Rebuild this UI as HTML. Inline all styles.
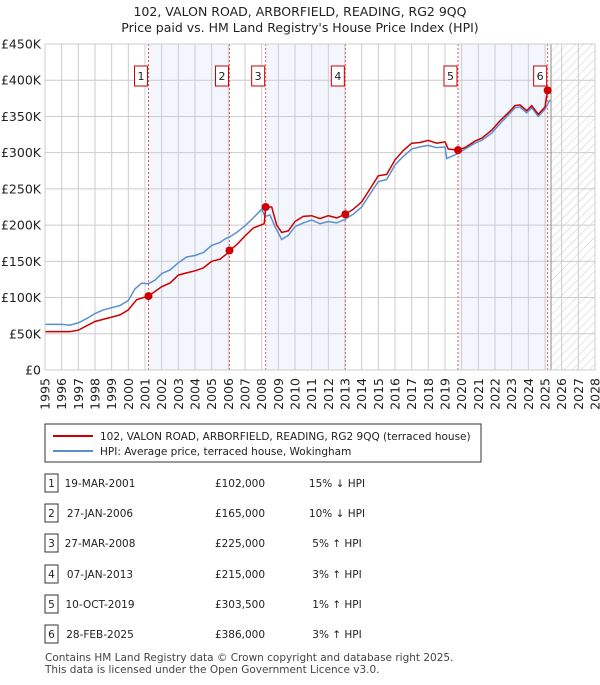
<!DOCTYPE html>
<html><head><meta charset="utf-8"><style>
body{margin:0;background:#fff;font-family:"Liberation Sans","DejaVu Sans",sans-serif;}
svg text{font-family:"DejaVu Sans","Liberation Sans",sans-serif;}
</style></head><body>
<svg id="c" width="600" height="680" xmlns="http://www.w3.org/2000/svg">
<defs><pattern id="hatch" width="6" height="6" patternUnits="userSpaceOnUse" patternTransform="rotate(45)"><line x1="0" y1="0" x2="0" y2="6" stroke="#ccc" stroke-width="1"/></pattern></defs>
<text x="300" y="16" text-anchor="middle" font-size="12.5" fill="#222">102, VALON ROAD, ARBORFIELD, READING, RG2 9QQ</text>
<text x="300" y="32" text-anchor="middle" font-size="12.5" fill="#222">Price paid vs. HM Land Registry's House Price Index (HPI)</text>
<g id="plot"></g>
<g>
<rect x="45" y="424" width="436" height="38" fill="#fff" stroke="#333"/>
<line x1="53" y1="436" x2="93" y2="436" stroke="#cc0000" stroke-width="2"/>
<text x="100" y="440" font-size="10.5" fill="#222">102, VALON ROAD, ARBORFIELD, READING, RG2 9QQ (terraced house)</text>
<line x1="53" y1="451" x2="93" y2="451" stroke="#5b8fd0" stroke-width="2"/>
<text x="100" y="455" font-size="10.5" fill="#222">HPI: Average price, terraced house, Wokingham</text>
</g>
<g id="table"></g>
<text x="45" y="661" font-size="10.5" fill="#444">Contains HM Land Registry data © Crown copyright and database right 2025.</text>
<text x="45" y="673" font-size="10.5" fill="#444">This data is licensed under the Open Government Licence v3.0.</text>
</svg>
<script>
const hpiYears=[1995,1996,1996.5,1997,1997.5,1998,1998.5,1999,1999.5,2000,2000.4,2000.8,2001.2,2001.6,2002,2002.5,2003,2003.5,2004,2004.5,2005,2005.5,2005.8,2006.1,2006.5,2007,2007.5,2008,2008.2,2008.5,2008.8,2009.2,2009.6,2010,2010.5,2011,2011.5,2012,2012.5,2013,2013.5,2014,2014.5,2015,2015.5,2016,2016.5,2017,2017.5,2018,2018.5,2019,2019.1,2019.8,2020.2,2020.8,2021.2,2021.8,2022.3,2022.8,2023.2,2023.5,2023.9,2024.2,2024.6,2025,2025.3];
const hpiValues=[63,63,62,65,71,78,83,86,89,96,112,120,119,124,133,138,148,156,158,162,172,176,181,184,190,199,210,222,212,214,198,180,186,198,203,207,202,205,203,208,215,225,243,260,263,283,295,305,308,310,307,308,292,299,305,313,317,327,340,352,362,363,355,362,350,360,373];
const priceYears=[1995,1996.5,1997,1998,1999,1999.5,2000,2000.5,2001.21,2002,2002.5,2003,2003.5,2004,2004.5,2005,2005.5,2006.0,2006.07,2006.5,2007,2007.5,2008.15,2008.24,2008.6,2008.9,2009.2,2009.6,2010,2010.5,2011,2011.5,2012,2012.5,2013.02,2013.5,2014,2014.5,2015,2015.5,2016,2016.5,2017,2017.5,2018,2018.5,2019,2019.2,2019.78,2020.2,2020.8,2021.2,2021.8,2022.3,2022.8,2023.2,2023.5,2023.9,2024.2,2024.6,2025,2025.16];
const priceValues=[53,53,55,67,73,76,83,97,102,115,120,131,134,137,141,150,153,162,165,173,185,196,202,225,225,200,190,192,205,212,213,209,213,210,215,222,232,250,268,270,290,303,313,314,317,313,315,305,303.5,307,316,320,331,344,355,365,366,358,365,353,363,386];
const saleLabels=["1","2","3","4","5","6"];
const saleYears=[2001.21,2006.07,2008.24,2013.02,2019.78,2025.16];
const salePrices=[102,165,225,215,303.5,386];
const saleDates=["19-MAR-2001","27-JAN-2006","27-MAR-2008","07-JAN-2013","10-OCT-2019","28-FEB-2025"];
const salePriceText=["£102,000","£165,000","£225,000","£215,000","£303,500","£386,000"];
const saleHpiText=["15% ↓ HPI","10% ↓ HPI","5% ↑ HPI","3% ↑ HPI","1% ↑ HPI","3% ↑ HPI"];
const yTicks=[0,50,100,150,200,250,300,350,400,450];
const yTickLabels=["£0","£50K","£100K","£150K","£200K","£250K","£300K","£350K","£400K","£450K"];
const xTicks=[1995,1996,1997,1998,1999,2000,2001,2002,2003,2004,2005,2006,2007,2008,2009,2010,2011,2012,2013,2014,2015,2016,2017,2018,2019,2020,2021,2022,2023,2024,2025,2026,2027,2028];
const dataEnd=2025.36;

const X0=45,X1=595,Y0=370,Y1=44;
const x=v=>X0+(v-1995)/(2028-1995)*(X1-X0);
const y=v=>Y0-v/450*(Y0-Y1);
const NS="http://www.w3.org/2000/svg";
const plot=document.getElementById('plot');
function mk(tag,attrs,parent){const e=document.createElementNS(NS,tag);for(const k in attrs)e.setAttribute(k,attrs[k]);(parent||plot).appendChild(e);return e;}

let bg=mk('rect',{x:X0,y:Y1,width:X1-X0,height:Y0-Y1,fill:'#fff'});


for(let i=0;i<saleYears.length-1;i+=2){
  let r=mk('rect',{x:x(saleYears[i]),y:Y1,width:x(saleYears[i+1])-x(saleYears[i]),height:Y0-Y1,fill:'#f3f6fd'});
  
  
}
let hz=mk('rect',{x:x(dataEnd),y:Y1,width:X1-x(dataEnd),height:Y0-Y1,fill:'url(#hatch)'});


yTicks.forEach((t,i)=>{
  let l=mk('line',{x1:X0,x2:X1,y1:y(t),y2:y(t),stroke:'#ccc','stroke-width':1});
  
  
  let tx=mk('text',{x:X0-4,y:y(t)+4.5,'text-anchor':'end','font-size':12.5,fill:'#222'});
  tx.textContent=yTickLabels[i];
  
  
});
xTicks.forEach(t=>{
  let l=mk('line',{x1:x(t),x2:x(t),y1:Y1,y2:Y0,stroke:'#ccc','stroke-width':1});
  
  
  let tx=mk('text',{transform:`translate(${x(t)+4.5},${Y0+8}) rotate(-90)`,'text-anchor':'end','font-size':12.5,fill:'#222'});
  tx.textContent=t;
  
  
});
let de=mk('line',{x1:x(dataEnd),x2:x(dataEnd),y1:Y1,y2:Y0,stroke:'#888','stroke-width':1});


saleYears.forEach((s,i)=>{
  let l=mk('line',{x1:x(s),x2:x(s),y1:Y1,y2:Y0,stroke:'#e55','stroke-width':1,'stroke-dasharray':'2,2'});
  
  
  let r=mk('rect',{x:x(s)-14,y:66,width:13,height:20,fill:'#fff',stroke:'#cc0000'});
  
  
  let t=mk('text',{x:x(s)-7.5,y:80,'text-anchor':'middle','font-size':11,fill:'#222'});
  t.textContent=saleLabels[i];
  
  
});
const pts=(xs,vs)=>xs.map((v,i)=>x(v).toFixed(1)+','+y(vs[i]).toFixed(1)).join(' ');
let hp=mk('polyline',{points:pts(hpiYears,hpiValues),fill:'none',stroke:'#5b8fd0','stroke-width':1.5});


let pp=mk('polyline',{points:pts(priceYears,priceValues),fill:'none',stroke:'#cc0000','stroke-width':1.5});


saleYears.forEach((s,i)=>{
  let c=mk('circle',{cx:x(s),cy:y(salePrices[i]),r:4,fill:'#cc0000'});
  
  
});
let fr=mk('rect',{x:X0,y:Y1,width:X1-X0,height:Y0-Y1,fill:'none',stroke:'#ccc'});


const tb=document.getElementById('table');
const rowY=[483,513,543,574,604,634];
saleLabels.forEach((lab,i)=>{
  const yy=rowY[i];
  let r=mk('rect',{x:45,y:yy-9,width:13,height:18,fill:'#fff',stroke:'#333'},tb);
  
  
  const cells=[[51.5,lab,'middle','table-row-number'],[100,saleDates[i],'middle','sale-date'],[240,salePriceText[i],'middle','sale-price'],[337,saleHpiText[i],'middle','hpi-comparison']];
  cells.forEach(c=>{
    let t=mk('text',{x:c[0],y:yy+4,'text-anchor':c[2],'font-size':10.5,fill:'#222'},tb);
    t.textContent=c[1];
    
    
  });
});
</script>
</body></html>
